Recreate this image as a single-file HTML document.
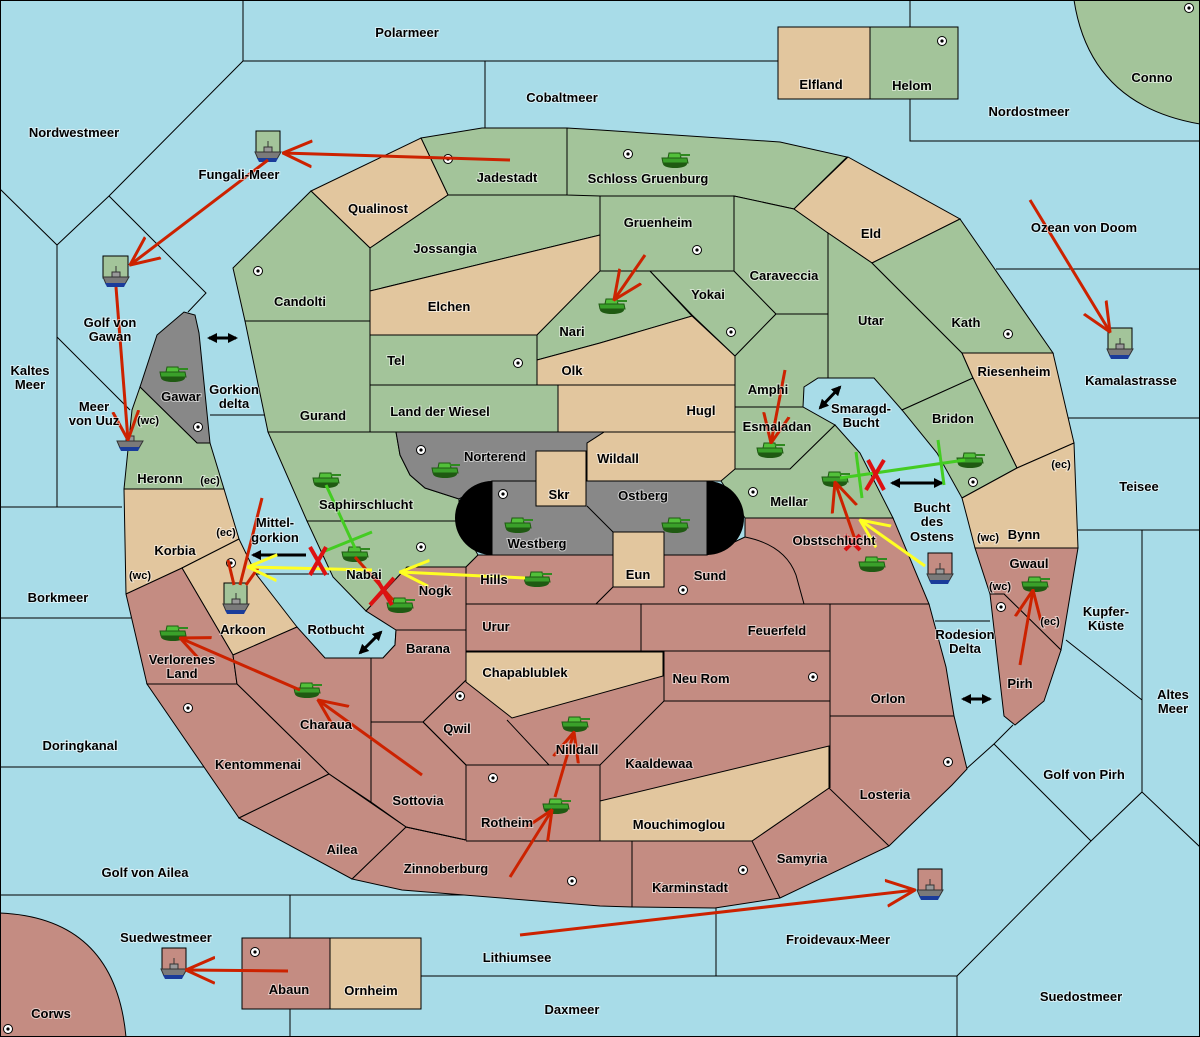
<!DOCTYPE html>
<html><head><meta charset="utf-8"><style>
html,body{margin:0;padding:0;background:#a8dce8}
svg{display:block}
text{font-family:"Liberation Sans","DejaVu Sans",sans-serif;font-weight:bold;font-size:13px;fill:#000;text-anchor:middle;paint-order:stroke;stroke:#ffffff;stroke-opacity:.55;stroke-width:2px}
.s{font-size:11px}
.g{fill:#a3c49a;stroke:#000;stroke-width:1}
.t{fill:#e2c69e;stroke:#000;stroke-width:1}
.p{fill:#c48c82;stroke:#000;stroke-width:1}
.d{fill:#888;stroke:#000;stroke-width:1}
.l{stroke:#000;stroke-width:1;fill:none}
.r{stroke:#cc2200;stroke-width:3;fill:none}
.y{stroke:#ffff22;stroke-width:3;fill:none}
.gr{stroke:#44cc22;stroke-width:3;fill:none}
.b{stroke:#000;stroke-width:3;fill:none}
</style></head><body>
<svg width="1200" height="1037" viewBox="0 0 1200 1037" xmlns="http://www.w3.org/2000/svg">
<defs>
<marker id="ar" viewBox="0 0 30 30" refX="29" refY="15" markerWidth="30" markerHeight="30" markerUnits="userSpaceOnUse" orient="auto"><path d="M0,2 L29,15 L0,28" fill="none" stroke="#cc2200" stroke-width="3"/></marker>
<marker id="ay" viewBox="0 0 30 30" refX="29" refY="15" markerWidth="30" markerHeight="30" markerUnits="userSpaceOnUse" orient="auto"><path d="M0,2 L29,15 L0,28" fill="none" stroke="#ffff22" stroke-width="3"/></marker>
<marker id="ab" viewBox="0 0 10 10" refX="8" refY="5" markerWidth="10" markerHeight="10" markerUnits="userSpaceOnUse" orient="auto-start-reverse"><path d="M0,0 L10,5 L0,10 z" fill="#000"/></marker>
<g id="tk"><ellipse cx="0" cy="5" rx="12" ry="4" fill="#1f5a12"/><path d="M-13,-1 L12,-1 L13,4 L-12,4 z" fill="#3aa02a" stroke="#1f5a12" stroke-width="1"/><path d="M-6,-6 L5,-6 L6,-1 L-7,-1 z" fill="#52c03a" stroke="#1f5a12" stroke-width="1"/><rect x="5" y="-5" width="10" height="2" fill="#2f8a20"/></g>
<g id="sh"><path d="M-13,0 L13,0 L9,7 L-10,7 z" fill="#7a7a7a" stroke="#333" stroke-width="1"/><path d="M-11,6 L10,6 L8,10 L-9,10 z" fill="#1a3c9a"/><rect x="-4" y="-5" width="8" height="5" fill="#999" stroke="#333" stroke-width="1"/><line x1="0" y1="-11" x2="0" y2="-5" stroke="#333"/></g>
<g id="sc"><circle r="4.5" fill="#fff" stroke="#000" stroke-width="1"/><circle r="1.6" fill="#000"/></g>
</defs>
<rect width="1200" height="1037" fill="#a8dce8"/>
<path class="l" d="M243,0 V61 H778 M910,0 V27 M910,99 V141 H1200 M485,61 V128 M243,61 L109,196 L57,245 L0,189 M57,245 V507 M0,507 H122 M109,196 L206,293 L188,312 M57,337 L130,410 M0,618 H131 M0,767 H205 M0,895 H600 M290,895 V938 M290,1009 V1037 M421,976 H957 V1037 M716,907 V976 M957,976 L1091,841 L1142,792 L1200,847 M1142,530 V792 M1091,841 L994,744 L965,770 M994,744 L1013,725 M1066,640 L1142,700 M1078,530 H1200 M935,621 H990 M1068,418 H1200 M996,269 H1200 M210,415 H266 M249,574 H329"/>
<path d="M1074,0 Q1090,105 1200,124 V0 z" class="g"/>
<path d="M0,913 Q115,918 126,1037 H0 z" class="p"/>
<rect x="778" y="27" width="92" height="72" class="t"/><rect x="870" y="27" width="88" height="72" class="g"/>
<rect x="242" y="938" width="88" height="71" class="p"/><rect x="330" y="938" width="91" height="71" class="t"/>
<polygon class="g" points="421,138 482,128 567,128 567,195 448,195"/>
<polygon class="t" points="311,191 421,138 448,195 370,248"/>
<polygon class="g" points="233,268 311,191 370,248 370,321 245,321"/>
<polygon class="g" points="245,321 370,321 370,432 268,432"/>
<polygon class="g" points="370,248 448,195 600,195 600,235 370,291"/>
<polygon class="t" points="370,291 600,235 600,272 537,335 370,335"/>
<polygon class="g" points="600,271 650,271 692,316 600,343 537,360 537,335"/>
<polygon class="t" points="537,360 600,343 692,316 735,356 735,385 537,385"/>
<rect x="600" y="195" width="134" height="76" class="g"/>
<polygon class="g" points="370,335 537,335 537,385 370,385"/>
<polygon class="g" points="370,385 558,385 558,432 370,432"/>
<polygon class="t" points="558,385 735,385 735,432 558,432"/>
<polygon class="t" points="604,432 735,432 735,470 721,481 587,481 587,443"/>
<polygon class="g" points="567,128 600,130 780,142 847,157 794,209 734,196 600,196 567,195"/>
<polygon class="g" points="650,271 734,271 776,314 735,356 692,315"/>
<polygon class="g" points="734,196 794,209 828,233 828,314 776,314 734,271"/>
<polygon class="t" points="848,157 960,219 872,263 828,233 794,209"/>
<polygon class="g" points="828,233 872,263 962,353 973,378 902,410 874,378 828,378 828,314"/>
<polygon class="g" points="872,263 960,219 1053,353 962,353"/>
<polygon class="t" points="962,353 1053,353 1074,443 1017,468 973,378"/>
<polygon class="g" points="902,410 973,378 1017,468 962,498 937,453"/>
<polygon class="t" points="962,498 1017,468 1074,443 1078,548 975,548 967,517"/>
<polygon class="g" points="735,356 776,314 828,314 828,378 818,378 804,387 803,407 735,407"/>
<polygon class="g" points="735,407 803,407 835,425 790,469 735,469"/>
<polygon class="g" points="721,481 735,469 790,469 835,425 860,453 893,518 745,518"/>
<polygon class="g" points="268,432 396,432 400,455 410,475 425,488 459,499 459,521 307,521"/>
<polygon class="d" points="396,432 604,432 587,443 587,481 492,481 459,499 425,488 410,475 400,455"/>
<polygon class="g" points="307,521 459,521 478,555 466,567 407,567 366,611 333,577"/>
<polygon class="p" points="366,611 407,567 466,567 466,630 396,630"/>
<polygon class="p" points="466,567 478,555 613,555 613,587 596,604 466,604"/>
<polygon class="p" points="596,604 613,587 664,587 664,555 707,555 728,545 745,537 745,518 893,518 929,604"/>
<path class="l" d="M745,537 Q785,545 796,575 L804,604"/>
<rect x="492" y="481" width="215" height="74" fill="#888" stroke="#000"/>
<path d="M492,481 A37,37 0 0 0 492,555 z M707,481 A37,37 0 0 1 707,555 z" fill="#000"/>
<path class="l" d="M587,506 L613,532"/>
<rect x="536" y="451" width="50" height="55" class="t"/>
<rect x="613" y="532" width="51" height="55" class="t"/>
<polygon class="p" points="466,604 929,604 946,667 954,716 967,769 952,785 889,846 780,898 715,908 632,907 600,906 402,890 352,879 406,827 466,840 466,765 423,722 371,722 371,658 383,658 395,645 396,630 466,630"/>
<polygon class="p" points="371,722 423,722 466,765 466,840 406,827 371,802"/>
<path class="l" d="M466,651 H830 M641,604 V651 M830,604 V788 M664,651 V701 H830 M830,716 H954 M466,765 H600 V841 H466 M406,827 L466,840 M600,841 H752 L829,788 L889,846 M752,841 L780,898 M632,841 V907 M371,722 H423 L466,680 M423,722 L466,765 M507,720 L549,765 M600,765 L664,701 M371,658 V802"/>
<polygon class="t" points="466,652 663,652 663,676 512,718 466,682"/>
<polygon class="t" points="600,801 829,746 829,788 752,841 600,841"/>
<polygon class="d" points="157,335 184,312 195,315 199,333 210,443 197,443 140,387"/>
<polygon class="g" points="140,387 197,443 210,443 224,489 124,489 132,410"/>
<polygon class="t" points="124,489 224,489 239,539 182,568 126,594"/>
<polygon class="t" points="182,568 239,539 256,574 297,627 233,655"/>
<polygon class="p" points="126,594 182,568 233,655 237,684 147,684"/>
<polygon class="p" points="233,655 297,627 325,658 371,658 371,802 329,774 237,684"/>
<polygon class="p" points="147,684 237,684 329,774 239,818"/>
<polygon class="p" points="239,818 329,774 406,827 352,879"/>
<polygon class="p" points="371,658 383,658 395,645 396,630 466,630 466,680 423,722 371,722"/>
<polygon class="p" points="975,548 1078,548 1061,650 1004,594 990,594"/>
<polygon class="p" points="990,594 1004,594 1061,650 1044,701 1015,725 1004,716"/>
<rect x="256" y="131" width="24" height="22" class="g"/>
<rect x="103" y="256" width="25" height="22" class="g"/>
<rect x="224" y="583" width="23" height="22" class="g"/>
<rect x="1108" y="328" width="24" height="22" class="g"/>
<rect x="928" y="553" width="24" height="22" class="p"/>
<rect x="918" y="869" width="24" height="22" class="p"/>
<rect x="162" y="948" width="24" height="22" class="p"/>
<use href="#sh" x="268" y="152"/><use href="#sh" x="116" y="277"/><use href="#sh" x="130" y="441"/><use href="#sh" x="236" y="604"/><use href="#sh" x="1120" y="349"/><use href="#sh" x="940" y="574"/><use href="#sh" x="930" y="890"/><use href="#sh" x="174" y="969"/>
<g>
<use href="#sc" x="448" y="159"/><use href="#sc" x="628" y="154"/><use href="#sc" x="942" y="41"/><use href="#sc" x="258" y="271"/><use href="#sc" x="697" y="250"/><use href="#sc" x="518" y="363"/><use href="#sc" x="731" y="332"/><use href="#sc" x="1008" y="334"/><use href="#sc" x="198" y="427"/><use href="#sc" x="421" y="450"/><use href="#sc" x="503" y="494"/><use href="#sc" x="753" y="492"/><use href="#sc" x="973" y="482"/><use href="#sc" x="421" y="547"/><use href="#sc" x="231" y="563"/><use href="#sc" x="683" y="590"/><use href="#sc" x="1001" y="607"/><use href="#sc" x="188" y="708"/><use href="#sc" x="460" y="696"/><use href="#sc" x="813" y="677"/><use href="#sc" x="493" y="778"/><use href="#sc" x="948" y="762"/><use href="#sc" x="572" y="881"/><use href="#sc" x="743" y="870"/><use href="#sc" x="255" y="952"/><use href="#sc" x="8" y="1029"/><use href="#sc" x="1189" y="8"/>
</g>
<use href="#tk" x="675" y="159"/><use href="#tk" x="612" y="305"/><use href="#tk" x="445" y="469"/><use href="#tk" x="173" y="373"/><use href="#tk" x="326" y="479"/><use href="#tk" x="355" y="553"/><use href="#tk" x="400" y="604"/><use href="#tk" x="537" y="578"/><use href="#tk" x="518" y="524"/><use href="#tk" x="675" y="524"/><use href="#tk" x="770" y="449"/><use href="#tk" x="835" y="478"/><use href="#tk" x="970" y="459"/><use href="#tk" x="872" y="563"/><use href="#tk" x="1035" y="583"/><use href="#tk" x="173" y="632"/><use href="#tk" x="307" y="689"/><use href="#tk" x="575" y="723"/><use href="#tk" x="556" y="805"/>
<g class="b"><line x1="209" y1="338" x2="236" y2="338" marker-start="url(#ab)" marker-end="url(#ab)"/><line x1="820" y1="408" x2="840" y2="387" marker-start="url(#ab)" marker-end="url(#ab)"/><line x1="892" y1="483" x2="942" y2="483" marker-start="url(#ab)" marker-end="url(#ab)"/><line x1="306" y1="555" x2="253" y2="555" marker-end="url(#ab)"/><line x1="360" y1="653" x2="381" y2="632" marker-start="url(#ab)" marker-end="url(#ab)"/><line x1="963" y1="699" x2="990" y2="699" marker-start="url(#ab)" marker-end="url(#ab)"/></g>
<g class="r">
<line x1="510" y1="160" x2="283" y2="153" marker-end="url(#ar)"/>
<line x1="268" y1="160" x2="130" y2="265" marker-end="url(#ar)"/>
<line x1="116" y1="287" x2="128" y2="440" marker-end="url(#ar)"/>
<line x1="1030" y1="200" x2="1110" y2="332" marker-end="url(#ar)"/>
<line x1="645" y1="255" x2="614" y2="300" marker-end="url(#ar)"/>
<line x1="785" y1="370" x2="771" y2="443" marker-end="url(#ar)"/>
<line x1="858" y1="548" x2="835" y2="482" marker-end="url(#ar)"/>
<line x1="240" y1="585" x2="262" y2="498"/><line x1="234" y1="585" x2="228" y2="560"/><line x1="246" y1="585" x2="258" y2="568"/>
<line x1="300" y1="690" x2="180" y2="638" marker-end="url(#ar)"/>
<line x1="422" y1="775" x2="318" y2="700" marker-end="url(#ar)"/>
<line x1="555" y1="797" x2="574" y2="732" marker-end="url(#ar)"/>
<line x1="510" y1="877" x2="552" y2="810" marker-end="url(#ar)"/>
<line x1="288" y1="971" x2="186" y2="970" marker-end="url(#ar)"/>
<line x1="520" y1="935" x2="915" y2="890" marker-end="url(#ar)"/>
<line x1="1020" y1="665" x2="1033" y2="590" marker-end="url(#ar)"/>
<line x1="355" y1="557" x2="393" y2="600"/>
</g>
<g class="y">
<line x1="525" y1="578" x2="400" y2="572" marker-end="url(#ay)"/>
<line x1="372" y1="570" x2="248" y2="567" marker-end="url(#ay)"/>
<line x1="925" y1="566" x2="860" y2="520" marker-end="url(#ay)"/>
</g>
<g class="gr">
<line x1="326" y1="485" x2="355" y2="548"/><line x1="325" y1="551" x2="372" y2="532"/>
<line x1="840" y1="478" x2="965" y2="460"/><line x1="856" y1="452" x2="862" y2="498"/><line x1="938" y1="440" x2="944" y2="485"/>
</g>
<g stroke="#dd1111" stroke-width="4"><line x1="310" y1="547" x2="326" y2="575"/><line x1="326" y1="547" x2="310" y2="575"/><line x1="376" y1="578" x2="392" y2="605"/><line x1="394" y1="578" x2="370" y2="605"/><line x1="868" y1="460" x2="884" y2="490"/><line x1="884" y1="460" x2="866" y2="490"/><line x1="845" y1="535" x2="860" y2="550"/><line x1="860" y1="535" x2="845" y2="550"/></g>
<text x="407" y="37">Polarmeer</text><text x="562" y="102">Cobaltmeer</text><text x="821" y="89">Elfland</text><text x="912" y="90">Helom</text><text x="1152" y="82">Conno</text><text x="1029" y="116">Nordostmeer</text><text x="74" y="137">Nordwestmeer</text><text x="239" y="179">Fungali-Meer</text><text x="507" y="182">Jadestadt</text><text x="648" y="183">Schloss Gruenburg</text><text x="378" y="213">Qualinost</text><text x="445" y="253">Jossangia</text><text x="658" y="227">Gruenheim</text><text x="871" y="238">Eld</text><text x="1084" y="232">Ozean von Doom</text><text x="784" y="280">Caraveccia</text><text x="300" y="306">Candolti</text><text x="708" y="299">Yokai</text><text x="449" y="311">Elchen</text><text x="110" y="327">Golf von</text><text x="110" y="341">Gawan</text><text x="572" y="336">Nari</text><text x="871" y="325">Utar</text><text x="966" y="327">Kath</text><text x="396" y="365">Tel</text><text x="572" y="375">Olk</text><text x="1014" y="376">Riesenheim</text><text x="1131" y="385">Kamalastrasse</text><text x="30" y="375">Kaltes</text><text x="30" y="389">Meer</text><text x="181" y="401">Gawar</text><text x="234" y="394">Gorkion</text><text x="234" y="408">delta</text><text x="768" y="394">Amphi</text><text x="861" y="413">Smaragd-</text><text x="861" y="427">Bucht</text><text x="94" y="411">Meer</text><text x="94" y="425">von Uuz</text><text class="s" x="148" y="424">(wc)</text><text x="323" y="420">Gurand</text><text x="440" y="416">Land der Wiesel</text><text x="701" y="415">Hugl</text><text x="953" y="423">Bridon</text><text x="777" y="431">Esmaladan</text><text x="495" y="461">Norterend</text><text x="618" y="463">Wildall</text><text x="160" y="483">Heronn</text><text class="s" x="210" y="484">(ec)</text><text class="s" x="1061" y="468">(ec)</text><text x="1139" y="491">Teisee</text><text x="559" y="499">Skr</text><text x="643" y="500">Ostberg</text><text x="789" y="506">Mellar</text><text x="366" y="509">Saphirschlucht</text><text x="932" y="512">Bucht</text><text x="932" y="526">des</text><text x="932" y="541">Ostens</text><text x="275" y="527">Mittel-</text><text x="275" y="542">gorkion</text><text class="s" x="226" y="536">(ec)</text><text class="s" x="988" y="541">(wc)</text><text x="1024" y="539">Bynn</text><text x="537" y="548">Westberg</text><text x="834" y="545">Obstschlucht</text><text x="175" y="555">Korbia</text><text x="1029" y="568">Gwaul</text><text x="364" y="579">Nabai</text><text x="494" y="584">Hills</text><text class="s" x="140" y="579">(wc)</text><text x="638" y="579">Eun</text><text x="710" y="580">Sund</text><text x="435" y="595">Nogk</text><text class="s" x="1000" y="590">(wc)</text><text x="58" y="602">Borkmeer</text><text x="1106" y="616">Kupfer-</text><text x="1106" y="630">Küste</text><text x="243" y="634">Arkoon</text><text x="496" y="631">Urur</text><text x="777" y="635">Feuerfeld</text><text x="336" y="634">Rotbucht</text><text class="s" x="1050" y="625">(ec)</text><text x="965" y="639">Rodesion</text><text x="965" y="653">Delta</text><text x="428" y="653">Barana</text><text x="182" y="664">Verlorenes</text><text x="182" y="678">Land</text><text x="525" y="677">Chapablublek</text><text x="701" y="683">Neu Rom</text><text x="1020" y="688">Pirh</text><text x="888" y="703">Orlon</text><text x="1173" y="699">Altes</text><text x="1173" y="713">Meer</text><text x="326" y="729">Charaua</text><text x="457" y="733">Qwil</text><text x="577" y="754">Nilldall</text><text x="80" y="750">Doringkanal</text><text x="659" y="768">Kaaldewaa</text><text x="258" y="769">Kentommenai</text><text x="1084" y="779">Golf von Pirh</text><text x="885" y="799">Losteria</text><text x="418" y="805">Sottovia</text><text x="507" y="827">Rotheim</text><text x="679" y="829">Mouchimoglou</text><text x="342" y="854">Ailea</text><text x="802" y="863">Samyria</text><text x="446" y="873">Zinnoberburg</text><text x="145" y="877">Golf von Ailea</text><text x="690" y="892">Karminstadt</text><text x="166" y="942">Suedwestmeer</text><text x="838" y="944">Froidevaux-Meer</text><text x="517" y="962">Lithiumsee</text><text x="289" y="994">Abaun</text><text x="371" y="995">Ornheim</text><text x="1081" y="1001">Suedostmeer</text><text x="572" y="1014">Daxmeer</text><text x="51" y="1018">Corws</text>
<rect x="0.5" y="0.5" width="1199" height="1036" fill="none" stroke="#000"/>
</svg>
</body></html>
